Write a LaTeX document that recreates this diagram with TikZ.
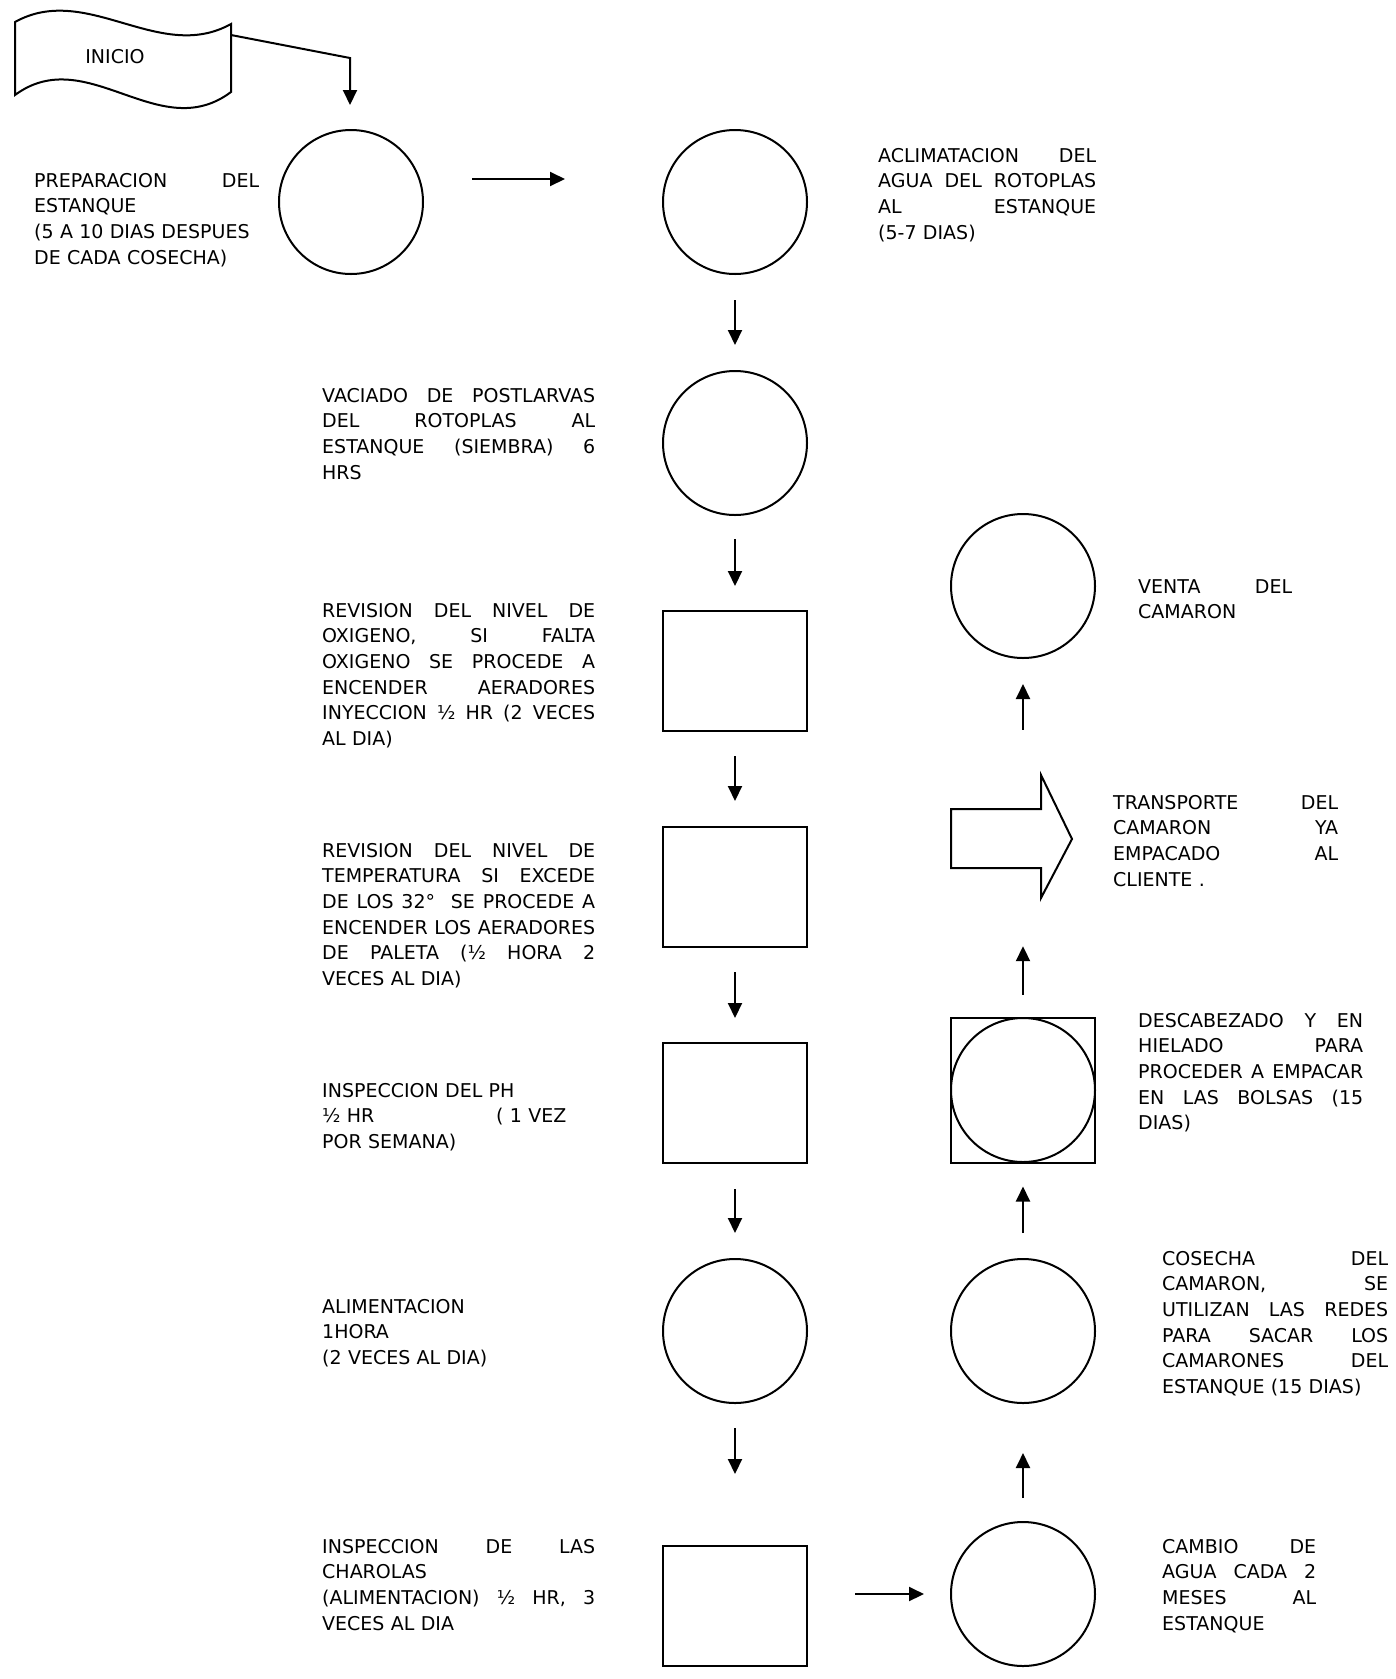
\documentclass[tikz,border=0pt]{standalone}
\usepackage{fontspec}
\setmainfont{DejaVu Sans}
\usetikzlibrary{arrows.meta}
\newcommand{\jl}[1]{\makebox[\linewidth][s]{\spaceskip=0pt\xspaceskip=0pt #1}}
\tikzset{
  shp/.style={draw, line width=2pt},
  circ/.style={shp, circle, minimum size=144pt, inner sep=0pt},
  rectb/.style={shp, rectangle, minimum width=144pt, minimum height=120pt, inner sep=0pt},
  arr/.style={line width=2pt, -{Triangle[length=15pt,width=14pt]}},
  txt/.style={inner sep=0pt, anchor=base west, align=left, font=\fontsize{19}{25.7}\selectfont},
}
\begin{document}
\begin{tikzpicture}[x=1pt,y=-1pt]
\useasboundingbox (0,0) rectangle (1396,1679);
% banner
\draw[shp] (15,22) .. controls (87,-18) and (159,64) .. (231,24) -- (231,92)
  .. controls (159,146) and (87,42) .. (15,95) -- cycle;
\node[font=\fontsize{19}{25.7}\selectfont, inner sep=0pt] (inicio) at (115,57) {INICIO};
\coordinate (bannerR) at (231,35);
\coordinate (bend) at (350,58);
% left/middle column
\node[circ] (A) at (351,202) {};
\node[circ] (B) at (735,202) {};
\node[circ] (C) at (735,443) {};
\node[rectb] (D) at (735,671) {};
\node[rectb] (E) at (735,887) {};
\node[rectb] (F) at (735,1103) {};
\node[circ] (G) at (735,1331) {};
\node[rectb] (H) at (735,1606) {};
% right column
\node[circ] (I) at (1023,1594) {};
\node[circ] (J) at (1023,1331) {};
\node[shp, rectangle, minimum width=144pt, minimum height=145pt, inner sep=0pt] (K) at (1023,1090) {};
\node[circ] (Kc) at (1023,1090) {};
\draw[shp] (951,809) -- (1041,809) -- (1041,775) -- (1072,839) -- (1041,898) -- (1041,868) -- (951,868) -- cycle;
\node[inner sep=0pt, minimum width=90pt, minimum height=59pt] (L) at (996,838.5) {};
\node[circ] (M) at (1023,586) {};
% connectors
\draw[arr, shorten >=24pt] (bannerR) -- (bend) -- (bend |- A.north);
\draw[arr, shorten <=48pt, shorten >=97pt] ([yshift=23pt]A.east) -- ([yshift=23pt]B.west);
\draw[arr, shorten <=25pt, shorten >=25pt] (B) -- (C);
\draw[arr, shorten <=23pt, shorten >=24pt] (C) -- (D);
\draw[arr, shorten <=24pt, shorten >=25pt] (D) -- (E);
\draw[arr, shorten <=24pt, shorten >=24pt] (E) -- (F);
\draw[arr, shorten <=25pt, shorten >=25pt] (F) -- (G);
\draw[arr, shorten <=24pt, shorten >=71pt] (G) -- (H);
\draw[arr, shorten <=47pt, shorten >=26pt] (H.east |- I.west) -- (I.west);
\draw[arr, shorten <=23pt, shorten >=49pt] (I) -- (J);
\draw[arr, shorten <=25pt, shorten >=23pt] (J) -- (K);
\draw[arr, shorten <=22pt, shorten >=78pt] (K.north) -- (K.north |- L.south);
\draw[arr, shorten <=79pt, shorten >=25pt] (K.north |- L.north) -- (M.south);
% texts
\node[txt, text width=225pt] (tA) at (34,187) {\jl{PREPARACION DEL}\\ESTANQUE\\(5 A 10 DIAS DESPUES\\DE CADA COSECHA)};
\node[txt, text width=218pt] (tB) at (878,162) {\jl{ACLIMATACION DEL}\\\jl{AGUA DEL ROTOPLAS}\\\jl{AL ESTANQUE}\\(5-7 DIAS)};
\node[txt, text width=273pt] (tC) at (322,402) {\jl{VACIADO DE POSTLARVAS}\\\jl{DEL ROTOPLAS AL}\\\jl{ESTANQUE (SIEMBRA) 6}\\HRS};
\node[txt, text width=273pt] (tD) at (322,617) {\jl{REVISION DEL NIVEL DE}\\\jl{OXIGENO, SI FALTA}\\\jl{OXIGENO SE PROCEDE A}\\\jl{ENCENDER AERADORES}\\\jl{INYECCION ½ HR (2 VECES}\\AL DIA)};
\node[txt, text width=273pt] (tE) at (322,857) {\jl{REVISION DEL NIVEL DE}\\\jl{TEMPERATURA SI EXCEDE}\\\jl{DE LOS 32°\ \ SE PROCEDE A}\\\jl{ENCENDER LOS AERADORES}\\\jl{DE PALETA (½ HORA 2}\\VECES AL DIA)};
\node[txt, text width=273pt] (tF) at (322,1097) {INSPECCION DEL PH\\\makebox[174pt][l]{½ HR}( 1 VEZ\\POR SEMANA)};
\node[txt, text width=273pt] (tG) at (322,1313) {ALIMENTACION\\1HORA\\(2 VECES AL DIA)};
\node[txt, text width=273pt] (tH) at (322,1553) {\jl{INSPECCION DE LAS}\\CHAROLAS\\\jl{(ALIMENTACION) ½ HR, 3}\\VECES AL DIA};
\node[txt, text width=154pt] (tI) at (1162,1553) {\jl{CAMBIO DE}\\\jl{AGUA CADA 2}\\\jl{MESES AL}\\ESTANQUE};
\node[txt, text width=226pt] (tJ) at (1162,1265) {\jl{COSECHA DEL}\\\jl{CAMARON, SE}\\\jl{UTILIZAN LAS REDES}\\\jl{PARA SACAR LOS}\\\jl{CAMARONES DEL}\\ESTANQUE (15 DIAS)};
\node[txt, text width=225pt] (tK) at (1138,1027) {\jl{DESCABEZADO Y EN}\\\jl{HIELADO PARA}\\\jl{PROCEDER A EMPACAR}\\\jl{EN LAS BOLSAS (15}\\DIAS)};
\node[txt, text width=225pt] (tL) at (1113,809) {\jl{TRANSPORTE DEL}\\\jl{CAMARON YA}\\\jl{EMPACADO AL}\\CLIENTE .};
\node[txt, text width=154pt] (tM) at (1138,593) {\jl{VENTA DEL}\\CAMARON};
\end{tikzpicture}
\end{document}
